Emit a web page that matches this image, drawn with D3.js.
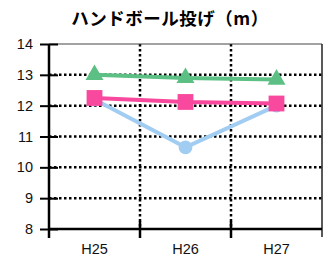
<!DOCTYPE html>
<html>
<head>
<meta charset="utf-8">
<script src="https://cdn.jsdelivr.net/npm/d3@7"></script>
<style>
  body { margin: 0; background: #fff; }
  svg { display: block; }
</style>
</head>
<body>
<div id="chart"></div>
<script>
// data
var years = ['H25', 'H26', 'H27'];
var yTicks = [8, 9, 10, 11, 12, 13, 14];
var greenVals = [13.0, 12.9, 12.85];
var blueVals = [12.2, 10.65, 12.0];
var pinkVals = [12.25, 12.12, 12.07];
var title = 'ハンドボール投げ（m）';

var width = 326, height = 263;
var margin = {top: 44, right: 4, bottom: 34, left: 49};

var svg = d3.select('#chart').append('svg')
  .attr('width', width)
  .attr('height', height);

var x = d3.scaleBand()
  .domain(years)
  .range([margin.left, width - margin.right]);

var y = d3.scaleLinear()
  .domain([8, 14])
  .range([height - margin.bottom, margin.top]);

// title
svg.append('text')
  .attr('x', 170)
  .attr('y', 25)
  .attr('text-anchor', 'middle')
  .style('font-family', '"Noto Sans CJK JP", sans-serif')
  .style('font-weight', 'bold')
  .style('font-size', '17.5px')
  .style('letter-spacing', '0.5px')
  .text(title);

// dotted gridlines
svg.append('g')
  .selectAll('line')
  .data(yTicks.filter(function(d) { return d > 8 && d < 14; }))
  .enter().append('line')
    .attr('x1', margin.left)
    .attr('x2', width - margin.right)
    .attr('y1', function(d) { return y(d); })
    .attr('y2', function(d) { return y(d); })
    .attr('stroke', '#000')
    .attr('stroke-width', 2.5)
    .attr('stroke-dasharray', '2.5,2.5');

svg.append('g')
  .selectAll('line')
  .data(years.slice(1))
  .enter().append('line')
    .attr('x1', function(d) { return x(d); })
    .attr('x2', function(d) { return x(d); })
    .attr('y1', y(14))
    .attr('y2', y(8))
    .attr('stroke', '#000')
    .attr('stroke-width', 2.5)
    .attr('stroke-dasharray', '2.5,2.5');

// frame top / right
svg.append('line')
  .attr('x1', margin.left).attr('x2', width - margin.right)
  .attr('y1', y(14)).attr('y2', y(14))
  .attr('stroke', '#444').attr('stroke-width', 1);
svg.append('line')
  .attr('x1', width - margin.right).attr('x2', width - margin.right)
  .attr('y1', y(14)).attr('y2', y(8) + 8)
  .attr('stroke', '#222').attr('stroke-width', 1.5);

// y axis
var yAxis = svg.append('g')
  .attr('transform', 'translate(' + margin.left + ',0)')
  .call(d3.axisLeft(y).tickValues(yTicks).tickFormat(d3.format('d')).tickSize(9).tickPadding(7));
yAxis.select('.domain').remove();
yAxis.append('line')
  .attr('x1', 0).attr('x2', 0)
  .attr('y1', y(14)).attr('y2', y(8) + 9)
  .attr('stroke', '#000').attr('stroke-width', 2.5);
yAxis.selectAll('.tick line')
  .attr('x1', 9).attr('x2', -9)
  .attr('stroke', '#000').attr('stroke-width', 2);
yAxis.selectAll('.tick text')
  .attr('x', -16)
  .style('font-family', 'Liberation Sans, Arial, sans-serif')
  .style('font-size', '14.5px')
  .attr('fill', '#111');

// x axis
var xAxis = svg.append('g')
  .attr('transform', 'translate(0,' + y(8) + ')')
  .call(d3.axisBottom(x).tickSize(0).tickPadding(15));
xAxis.select('.domain').remove();
xAxis.append('line')
  .attr('x1', margin.left).attr('x2', width - margin.right)
  .attr('y1', 0).attr('y2', 0)
  .attr('stroke', '#000').attr('stroke-width', 2.5);
xAxis.selectAll('.sep')
  .data(years.slice(1))
  .enter().append('line')
    .attr('class', 'sep')
    .attr('x1', function(d) { return x(d); })
    .attr('x2', function(d) { return x(d); })
    .attr('y1', -8).attr('y2', 9)
    .attr('stroke', '#000').attr('stroke-width', 2.5);
xAxis.selectAll('.tick text')
  .style('font-family', 'Liberation Sans, Arial, sans-serif')
  .style('font-size', '14.5px')
  .attr('fill', '#111');

var cx = function(d, i) { return x(years[i]) + x.bandwidth() / 2; };
var line = d3.line()
  .x(function(d, i) { return cx(d, i); })
  .y(function(d) { return y(d); });

function drawSeries(vals, color, shape, size) {
  svg.append('path')
    .datum(vals)
    .attr('d', line)
    .attr('fill', 'none')
    .attr('stroke', color)
    .attr('stroke-width', 4);
  svg.append('g')
    .selectAll('path')
    .data(vals)
    .enter().append('path')
      .attr('d', d3.symbol().type(shape).size(size))
      .attr('transform', function(d, i) { return 'translate(' + cx(d, i) + ',' + y(d) + ')'; })
      .attr('fill', color);
}

drawSeries(blueVals, '#a2cdf2', d3.symbolCircle, 150);
drawSeries(greenVals, '#5cbf83', d3.symbolTriangle, 140);
drawSeries(pinkVals, '#f8499e', d3.symbolSquare, 250);
</script>
</body>
</html>
